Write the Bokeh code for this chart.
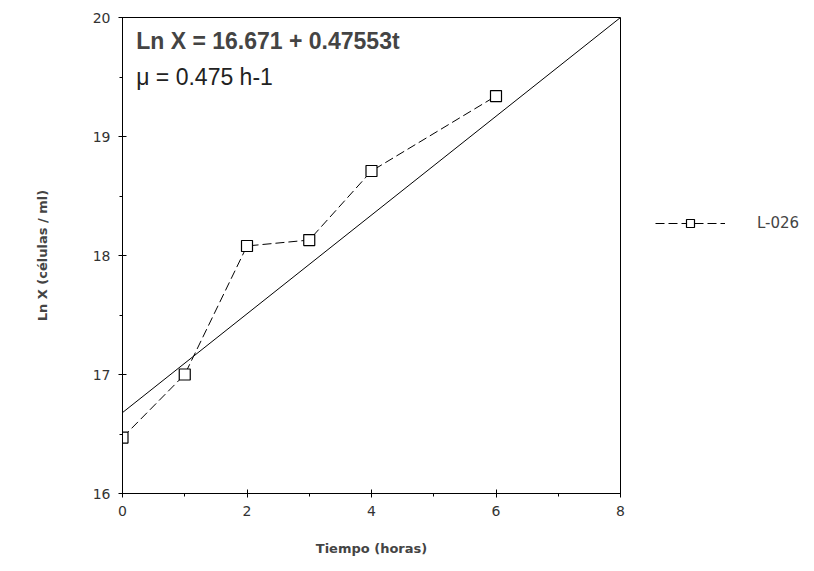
from bokeh.plotting import figure
from bokeh.models import Label, Legend, LegendItem, FixedTicker, Range1d
from bokeh.embed import file_html
from bokeh.resources import INLINE

# data
tiempo = [0, 1, 2, 3, 4, 6]
ln_x = [16.47, 17.0, 18.08, 18.13, 18.71, 19.34]
fit_t = [0, 8]
fit_ln_x = [16.68, 20.0]
x_ticks = [0, 2, 4, 6, 8]
y_ticks = [16, 17, 18, 19, 20]
series_name = "L-026"
eq_line1 = "Ln X = 16.671 + 0.47553t"
eq_line2 = "μ = 0.475 h-1"

p = figure(frame_width=498, frame_height=476,
           output_backend="svg", toolbar_location=None,
           x_range=Range1d(0, 8), y_range=Range1d(16, 20),
           min_border_left=122, min_border_right=0, min_border_top=17, min_border_bottom=78)
p.grid.visible = False
p.background_fill_color = "white"
p.border_fill_color = "white"
p.outline_line_color = "black"
p.outline_line_width = 1

p.line(fit_t, fit_ln_x, line_color="black", line_width=1)
r_line = p.line(tiempo, ln_x, line_color="black", line_width=1, line_dash="9 4")
r_pts = p.scatter(tiempo, ln_x, marker="square", size=11, fill_color="white",
                  line_color="black", line_width=1.2)

for ax in (p.xaxis[0], p.yaxis[0]):
    ax.axis_line_color = "black"
    ax.major_tick_in = 4
    ax.major_tick_out = 4
    ax.minor_tick_in = 0
    ax.minor_tick_out = 3
    ax.major_label_text_font = "DejaVu Sans"
    ax.major_label_text_font_size = "14px"
    ax.major_label_text_color = "#333333"
    ax.axis_label_text_font = "DejaVu Sans"
    ax.axis_label_text_font_style = "bold"
    ax.axis_label_text_font_size = "13px"

p.xaxis[0].ticker = FixedTicker(ticks=x_ticks, minor_ticks=[1, 3, 5, 7])
p.yaxis[0].ticker = FixedTicker(ticks=y_ticks, minor_ticks=[16.5, 17.5, 18.5, 19.5])
p.xaxis[0].axis_label = "Tiempo (horas)"
p.yaxis[0].axis_label = "Ln X (células / ml)"
p.xaxis[0].major_label_standoff = 8
p.xaxis[0].axis_label_standoff = 22
p.yaxis[0].major_label_standoff = 8
p.yaxis[0].axis_label_standoff = 40
p.yaxis[0].major_label_orientation = "horizontal"

p.add_layout(Label(x=0.22, y=19.8, text=eq_line1, text_font="Liberation Sans",
                   text_font_style="bold", text_font_size="23px", text_baseline="middle"))
p.add_layout(Label(x=0.22, y=19.5, text=eq_line2, text_font="Liberation Sans",
                   text_font_size="23px", text_baseline="middle", text_color="#222222"))

legend = Legend(items=[LegendItem(label=series_name, renderers=[r_line, r_pts])],
                location=(35, 260), border_line_color=None, background_fill_alpha=0,
                glyph_width=70, label_standoff=32, padding=0, margin=0,
                label_text_font="DejaVu Sans", label_text_font_size="15px")
p.add_layout(legend, "right")

open("out.html", "w").write(file_html(p, INLINE))
